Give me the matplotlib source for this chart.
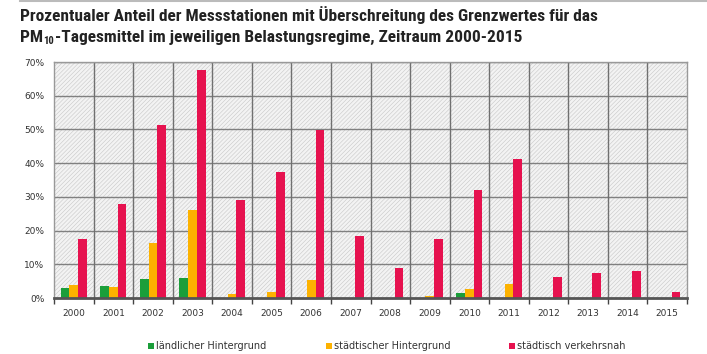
import matplotlib
matplotlib.use("Agg")
import matplotlib.pyplot as plt
import numpy as np
from matplotlib.patches import Rectangle
from matplotlib.ticker import FixedLocator, NullFormatter
from matplotlib import font_manager
from matplotlib.font_manager import FontProperties

years = ["2000", "2001", "2002", "2003", "2004", "2005", "2006", "2007",
         "2008", "2009", "2010", "2011", "2012", "2013", "2014", "2015"]
laendlich = [3.0, 3.6, 5.5, 5.8, 0, 0, 0, 0, 0, 0, 1.6, 0, 0, 0, 0, 0]
staedtisch_hg = [3.9, 3.4, 16.4, 26.0, 1.2, 1.8, 5.4, 0, 0, 0.6, 2.8, 4.2, 0, 0, 0, 0]
verkehrsnah = [17.4, 27.8, 51.4, 67.7, 29.1, 37.3, 49.8, 18.5, 8.9, 17.4, 32.1, 41.2, 6.1, 7.5, 7.9, 1.8]
series_labels = ["ländlicher Hintergrund", "städtischer Hintergrund", "städtisch verkehrsnah"]
colors = ["#1B9E3A", "#FDB200", "#E6124F"]
yticks = [0, 10, 20, 30, 40, 50, 60, 70]
title1 = "Prozentualer Anteil der Messstationen mit Überschreitung des Grenzwertes für das"
title2a = "PM"
title2b = "10"
title2c = "-Tagesmittel im jeweiligen Belastungsregime, Zeitraum 2000-2015"


def wnum(wt):
    if isinstance(wt, (int, float)):
        return wt
    return font_manager.weight_dict.get(wt, 400)


prio = ['Roboto Condensed', 'Open Sans Condensed', 'Liberation Sans Narrow',
        'Noto Sans Condensed', 'Lato', 'DejaVu Sans']
cands = []
for f in font_manager.fontManager.ttflist:
    narrow = ('Condensed' in f.name or 'Narrow' in f.name or
              f.stretch in ('condensed', 'semi-condensed', 'extra-condensed'))
    if narrow and f.style == 'normal':
        wn = wnum(f.weight)
        if 550 <= wn <= 800:
            p = len(prio)
            for i, n in enumerate(prio):
                if f.name.startswith(n):
                    p = i
                    break
            cands.append((p, abs(wn - 650), f.fname))
cands.sort()
if cands:
    title_fp = FontProperties(fname=cands[0][2])
else:
    title_fp = FontProperties(family='Open Sans', weight='bold')

plt.rcParams['font.family'] = ['DejaVu Sans']
plt.rcParams['hatch.linewidth'] = 0.4
plt.rcParams['hatch.color'] = '#c8c8c8'

fig = plt.figure(figsize=(7.07, 3.54), dpi=100)
ax = fig.add_axes([54/707, 1-298/354, 633/707, 236/354])

ax.set_facecolor('#f3f3f3')
ax.add_patch(Rectangle((0, 0), 1, 1, transform=ax.transAxes, facecolor='none',
                       edgecolor='#c8c8c8', hatch='////////', linewidth=0, zorder=0))

x = np.arange(len(years))
w = 0.22
for i, (vals, c, lab) in enumerate(zip([laendlich, staedtisch_hg, verkehrsnah], colors, series_labels)):
    ax.bar(x + (i - 1) * w, vals, width=w, color=c, label=lab, zorder=3, linewidth=0)

ax.set_xlim(-0.5, len(years) - 0.5)
ax.set_ylim(0, 70)
ax.set_yticks(yticks)
ax.set_yticklabels([f"{v}%" for v in yticks], fontsize=6.5, color='#333333')
ax.xaxis.set_major_locator(FixedLocator(x))
ax.set_xticklabels(years, fontsize=6.5, color='#333333')
ax.tick_params(axis='x', which='major', length=0, pad=8)
ax.xaxis.set_minor_locator(FixedLocator(np.arange(-0.5, len(years), 1)))
ax.xaxis.set_minor_formatter(NullFormatter())
ax.tick_params(axis='x', which='minor', length=4, width=1, color='#444444', direction='out')
ax.tick_params(axis='y', length=0, pad=7)

for yv in yticks[1:]:
    ax.axhline(yv, color='#808080', linewidth=1, zorder=1)
for xv in np.arange(0.5, len(years) - 0.5, 1):
    ax.axvline(xv, color='#707070', linewidth=1, zorder=1)

for s in ['top', 'right', 'left']:
    ax.spines[s].set_color('#999999')
    ax.spines[s].set_linewidth(1)
ax.spines['bottom'].set_color('#555555')
ax.spines['bottom'].set_linewidth(2)
ax.spines['bottom'].set_zorder(4)

# title: scale font so line 1 spans ~575 px like the reference
fs0 = 12.5
t1 = fig.text(20/707, 1-21/354, title1, fontproperties=title_fp, fontsize=fs0,
              color='#222222', va='baseline')
fig.canvas.draw()
r = fig.canvas.get_renderer()
fs = fs0 * 578.0 / t1.get_window_extent(r).width
fs = min(fs, 14)
t1.set_fontsize(fs)

ta = fig.text(20/707, 1-42/354, title2a, fontproperties=title_fp, fontsize=fs,
              color='#222222', va='baseline')
fig.canvas.draw()
xa = ta.get_window_extent(r).x1
tb = fig.text(xa/707 + 0.5/707, 1-44/354, title2b, fontproperties=title_fp, fontsize=fs*0.62,
              color='#222222', va='baseline')
fig.canvas.draw()
xb = tb.get_window_extent(r).x1
fig.text(xb/707 + 0.5/707, 1-42/354, title2c, fontproperties=title_fp, fontsize=fs,
         color='#222222', va='baseline')

fig.add_artist(plt.Line2D([20/707, 1], [1-1/354, 1-1/354], color='#bbbbbb', linewidth=1.5))

leg_x = [148, 326, 509]
for hx, lab, c in zip(leg_x, series_labels, colors):
    fig.patches.append(Rectangle((hx/707, 1-349/354), 6/707, 6/354, transform=fig.transFigure,
                                 facecolor=c, edgecolor='none'))
    fig.text((hx+8)/707, 1-346/354, lab, fontsize=7, color='#333333', va='center')

fig.savefig("out.png", dpi=100)
